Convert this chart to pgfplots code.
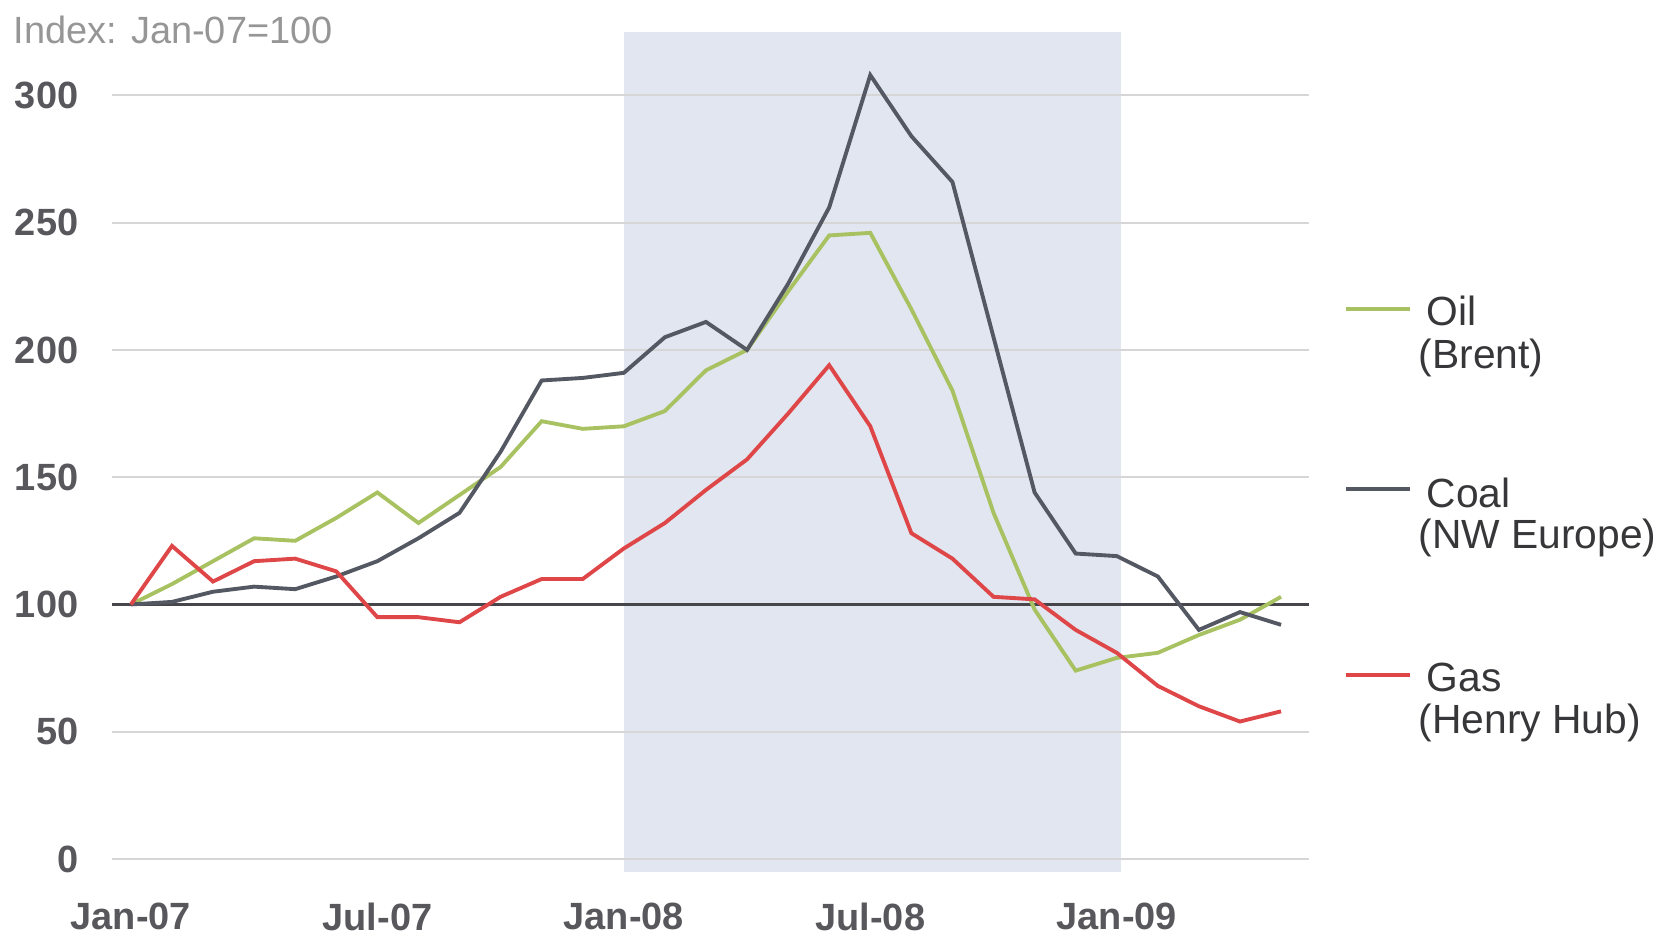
\documentclass[border=0pt]{standalone}
\usepackage{fontspec}
\setmainfont{Liberation Sans}
\usepackage{pgfplots}
\pgfplotsset{compat=1.18}

\definecolor{oilc}{RGB}{168,194,98}
\definecolor{coalc}{RGB}{84,88,98}
\definecolor{gasc}{RGB}{222,70,72}
\definecolor{shade}{RGB}{226,230,240}
\definecolor{gridc}{RGB}{214,214,214}
\definecolor{ticktext}{RGB}{88,88,92}

\begin{document}
\begin{tikzpicture}
\path (0,0) rectangle (16.68,9.5);
\begin{axis}[
    set layers,
    at={(1.12cm,0.783cm)}, anchor=south west,
    scale only axis,
    width=11.97cm, height=8.399cm,
    xmin=-0.46, xmax=28.68,
    ymin=-5, ymax=325,
    axis line style={draw=none},
    major tick length=0pt,
    ytick={0,50,...,300},
    xtick={0,6,12,18,24},
    xticklabels={Jan-07,Jul-07,Jan-08,Jul-08,Jan-09},
    ymajorgrids,
    grid style={gridc, line width=0.6pt},
    /pgf/number format/assume math mode=true,
    yticklabel style={anchor=east, inner sep=0pt, xshift=-0.33cm,
        font=\fontsize{10.8}{12}\selectfont\bfseries, text=ticktext},
    xticklabel style={anchor=center, inner sep=0pt, yshift=-0.45cm,
        font=\fontsize{10.8}{12}\selectfont\bfseries, text=ticktext},
]
% shaded period Jan-08 to Jan-09
\addplot[on layer=axis background, fill=shade, draw=none]
    coordinates {(12,-5) (12,325) (24.1,325) (24.1,-5)} -- cycle;

% index base line
\addplot[color={rgb,255:red,70;green,70;blue,75}, line width=0.7pt]
    coordinates {(-0.46,100) (28.68,100)};

% Oil (Brent)
\addplot[oilc, line width=1.1pt] coordinates {
(0,100) (1,108) (2,117) (3,126) (4,125) (5,134) (6,144) (7,132) (8,143)
(9,154) (10,172) (11,169) (12,170) (13,176) (14,192) (15,200) (16,223)
(17,245) (18,246) (19,216) (20,184) (21,136) (22,98) (23,74) (24,79)
(25,81) (26,88) (27,94) (28,103)};

% Coal (NW Europe)
\addplot[coalc, line width=1.1pt] coordinates {
(0,100) (1,101) (2,105) (3,107) (4,106) (5,111) (6,117) (7,126) (8,136)
(9,160) (10,188) (11,189) (12,191) (13,205) (14,211) (15,200) (16,226)
(17,256) (18,308) (19,284) (20,266) (21,205) (22,144) (23,120) (24,119)
(25,111) (26,90) (27,97) (28,92)};

% Gas (Henry Hub)
\addplot[gasc, line width=1.1pt] coordinates {
(0,100) (1,123) (2,109) (3,117) (4,118) (5,113) (6,95) (7,95) (8,93)
(9,103) (10,110) (11,110) (12,122) (13,132) (14,145) (15,157) (16,175)
(17,194) (18,170) (19,128) (20,118) (21,103) (22,102) (23,90) (24,81)
(25,68) (26,60) (27,54) (28,58)};
\end{axis}

% title
\node[anchor=west, inner sep=0pt, text={rgb,255:red,150;green,150;blue,150},
      font=\fontsize{10.8}{12}\selectfont] at (0.13,9.2) {Index: Jan-07=100};

% legend
\begin{scope}[font=\fontsize{11.6}{13}\selectfont, text={rgb,255:red,55;green,55;blue,58}]
\draw[oilc, line width=1.3pt] (13.46,6.41) -- (14.10,6.41);
\node[anchor=west, inner sep=0pt] at (14.26,6.39) {Oil};
\node[anchor=west, inner sep=0pt] at (14.18,5.92) {(Brent)};
\draw[coalc, line width=1.3pt] (13.46,4.61) -- (14.10,4.61);
\node[anchor=west, inner sep=0pt] at (14.26,4.57) {Coal};
\node[anchor=west, inner sep=0pt] at (14.18,4.12) {(NW Europe)};
\draw[gasc, line width=1.3pt] (13.46,2.75) -- (14.10,2.75);
\node[anchor=west, inner sep=0pt] at (14.26,2.73) {Gas};
\node[anchor=west, inner sep=0pt] at (14.18,2.27) {(Henry Hub)};
\end{scope}
\end{tikzpicture}
\end{document}
